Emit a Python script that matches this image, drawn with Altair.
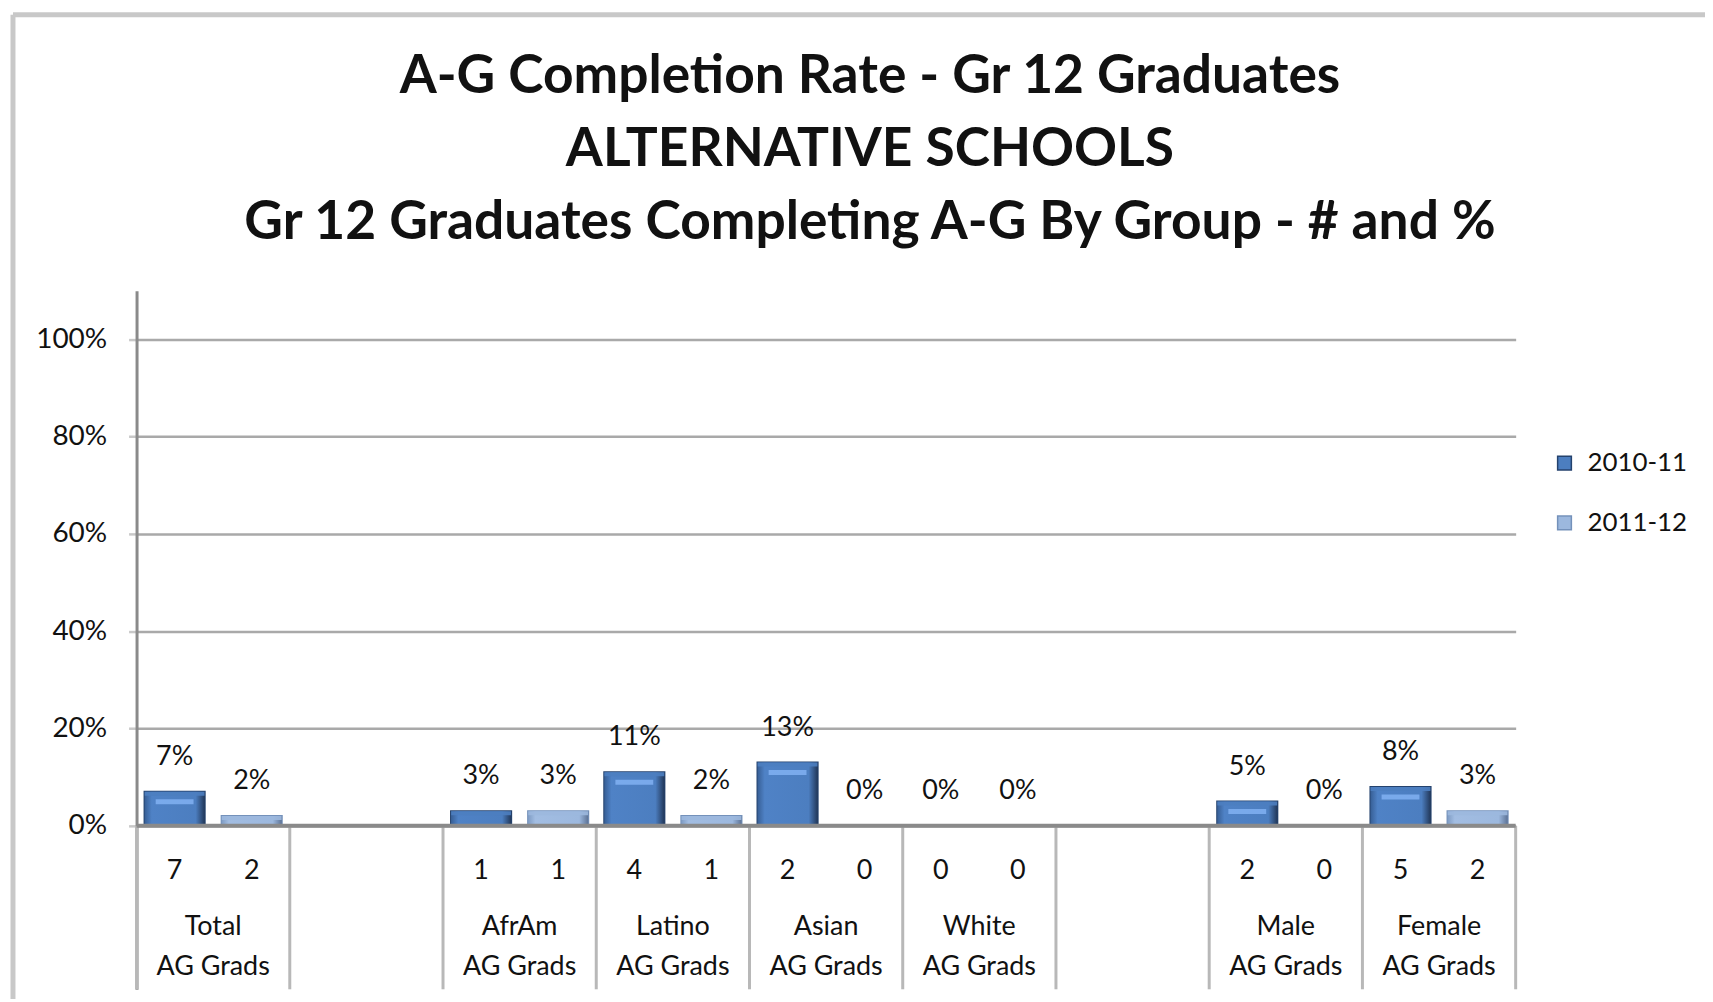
import altair as alt
import pandas as pd

# ---- data ----
title_lines = [
    "A-G Completion Rate - Gr 12 Graduates",
    "ALTERNATIVE SCHOOLS",
    "Gr 12 Graduates Completing A-G By Group - # and %",
]
groups = ["Total", "AfrAm", "Latino", "Asian", "White", "Male", "Female"]
slots = ["Total", "gap1", "AfrAm", "Latino", "Asian", "White", "gap2", "Male", "Female"]
years = ["2010-11", "2011-12"]
pct_2010 = [7, 3, 11, 13, 0, 5, 8]
pct_2011 = [2, 3, 2, 0, 0, 0, 3]
n_2010 = [7, 1, 4, 2, 0, 2, 5]
n_2011 = [2, 1, 1, 0, 0, 0, 2]
y_ticks = [0, 0.2, 0.4, 0.6, 0.8, 1.0]
sub_label = "AG Grads"

rows = []
for i, g in enumerate(groups):
    for yr, p, n in ((years[0], pct_2010[i], n_2010[i]), (years[1], pct_2011[i], n_2011[i])):
        rows.append({"group": g, "year": yr, "pct": p / 100.0, "n": str(n), "pct_label": f"{p}%"})
df = pd.DataFrame(rows)
cat_df = pd.DataFrame({"group": groups, "label": [g + "\n" + sub_label for g in groups]})
sep_df = pd.DataFrame({"slot": slots})
last_df = pd.DataFrame({"slot": [slots[-1]]})
title_df = pd.DataFrame({"title": ["\n".join(title_lines)]})

W, H = 1384, 701
FONT = "Lato"
BAR_W = 60

x_scale = alt.Scale(domain=slots, paddingInner=0, paddingOuter=0)
xo_scale = alt.Scale(domain=years, paddingInner=0.22, paddingOuter=0.104)
y_scale = alt.Scale(domain=[-0.336, 1.1], nice=False, zero=False)

y_axis = alt.Axis(
    values=y_ticks,
    format=".0%",
    title=None,
    grid=True,
    gridColor="#a9a9a9",
    gridWidth=2.5,
    tickColor="#c8c8c8",
    tickWidth=2.5,
    tickSize=8,
    labelPadding=22,
    labelFont=FONT,
    labelFontSize=28,
    labelColor="#111111",
    domainColor="#8a8a8a",
    domainWidth=3,
)

x_enc = alt.X("group:N", scale=x_scale, axis=None)
xo_enc = alt.XOffset("year:N", scale=xo_scale)
y_enc = alt.Y("pct:Q", scale=y_scale, axis=y_axis)

base = alt.Chart(df)

bars = base.mark_bar(strokeWidth=2).encode(
    x=x_enc,
    xOffset=xo_enc,
    y=y_enc,
    y2=alt.datum(0),
    color=alt.Color(
        "year:N",
        scale=alt.Scale(domain=years, range=["#4c7ec0", "#9cb8de"]),
        legend=alt.Legend(
            title=None,
            orient="none",
            legendX=1420,
            legendY=160,
            symbolType="square",
            symbolSize=190,
            symbolStrokeColor="#2b4a78",
            symbolStrokeWidth=1.5,
            labelFont=FONT,
            labelFontSize=26,
            labelOffset=10,
            labelColor="#111111",
            rowPadding=34,
            padding=0,
        ),
    ),
    stroke=alt.Stroke("year:N", scale=alt.Scale(domain=years, range=["#24426d", "#7491ba"]), legend=None),
)

# bevel look: horizontal gradient body, lighter top face and an inner highlight stripe
grad_2010 = alt.Gradient(
    gradient="linear", x1=0, x2=1, y1=0, y2=0,
    stops=[
        alt.GradientStop(offset=0, color="#375f96"),
        alt.GradientStop(offset=0.12, color="#4f82c6"),
        alt.GradientStop(offset=0.85, color="#4c7ec0"),
        alt.GradientStop(offset=1, color="#22385a"),
    ],
)
grad_2011 = alt.Gradient(
    gradient="linear", x1=0, x2=1, y1=0, y2=0,
    stops=[
        alt.GradientStop(offset=0, color="#7f9cc4"),
        alt.GradientStop(offset=0.12, color="#a2bde2"),
        alt.GradientStop(offset=0.85, color="#9cb8de"),
        alt.GradientStop(offset=1, color="#5d7396"),
    ],
)
body_2010 = base.transform_filter(alt.datum.year == years[0]).mark_bar(color=grad_2010).encode(
    x=x_enc, xOffset=xo_enc, y=y_enc, y2=alt.datum(0)
)
body_2011 = base.transform_filter(alt.datum.year == years[1]).mark_bar(color=grad_2011).encode(
    x=x_enc, xOffset=xo_enc, y=y_enc, y2=alt.datum(0)
)
top_face = base.transform_filter(alt.datum.pct > 0).mark_tick(
    orient="horizontal", size=BAR_W, thickness=4, yOffset=2, opacity=0.9
).encode(
    x=x_enc, xOffset=xo_enc, y=y_enc,
    color=alt.Color("year:N", scale=alt.Scale(domain=years, range=["#b4c7e2", "#c9d6ea"]), legend=None),
)
highlight = base.transform_filter(alt.datum.pct >= 0.04).mark_tick(
    orient="horizontal", size=BAR_W - 22, thickness=5, yOffset=10, color="#7eaef0", opacity=0.9
).encode(x=x_enc, xOffset=xo_enc, y=y_enc)

pct_text = base.mark_text(dy=-35, font=FONT, fontSize=27, color="#111111", baseline="middle").encode(
    x=x_enc, xOffset=xo_enc, y=y_enc, text="pct_label:N"
)

count_text = base.mark_text(font=FONT, fontSize=27, color="#111111", baseline="middle").encode(
    x=x_enc, xOffset=xo_enc, y=alt.value(582), text="n:N"
)

cat_text = alt.Chart(cat_df).mark_text(
    font=FONT, fontSize=27, color="#111111", baseline="middle", lineBreak="\n", lineHeight=40
).encode(x=alt.X("group:N", scale=x_scale, axis=None), y=alt.value(639), text="label:N")

seps = alt.Chart(sep_df).mark_rule(color="#b8b8b8", strokeWidth=3).encode(
    x=alt.X("slot:N", scale=x_scale, axis=None, bandPosition=0),
    y=alt.value(537),
    y2=alt.value(H),
)
last_sep = alt.Chart(last_df).mark_rule(color="#b8b8b8", strokeWidth=3).encode(
    x=alt.X("slot:N", scale=x_scale, axis=None, bandPosition=1),
    y=alt.value(537),
    y2=alt.value(H),
)

baseline = alt.Chart(last_df).mark_rule(color="#8a8a8a", strokeWidth=4).encode(
    x=alt.value(0), x2=alt.value(W), y=alt.value(537)
)

frame_top = alt.Chart(last_df).mark_rule(color="#c8c8c8", strokeWidth=5).encode(
    x=alt.value(-124), x2=alt.value(1580), y=alt.value(-277)
)
frame_left = alt.Chart(last_df).mark_rule(color="#c8c8c8", strokeWidth=5).encode(
    x=alt.value(-124), y=alt.value(-277), y2=alt.value(H + 20)
)

title_text = alt.Chart(title_df).mark_text(
    font=FONT, fontSize=53.5, fontWeight="bold", color="#111111", align="center",
    baseline="middle", lineBreak="\n", lineHeight=73,
).encode(x=alt.value(736), y=alt.value(-214), text="title:N")

chart = (
    alt.layer(
        bars, body_2010, body_2011, top_face, highlight, pct_text,
        frame_top, frame_left, seps, last_sep, baseline, count_text, cat_text, title_text,
    )
    .properties(
        width=W,
        height=H,
        background="white",
        autosize=alt.AutoSizeParams(type="none"),
        padding={"left": 129, "top": 282, "right": 190, "bottom": 8},
    )
    .configure_view(stroke=None)
)

chart.save("out.html", embed_options={"renderer": "svg", "actions": False})
